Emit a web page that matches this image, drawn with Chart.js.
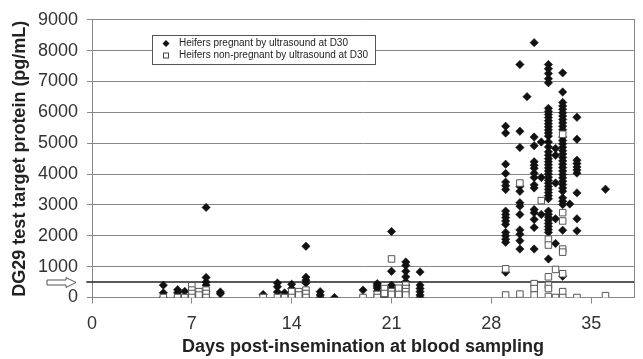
<!DOCTYPE html>
<html>
<head>
<meta charset="utf-8">
<script src="https://cdn.jsdelivr.net/npm/chart.js@4"></script>
<style>
  html, body { margin: 0; padding: 0; background: #fff; }
  canvas { display: block; }
</style>
</head>
<body>
<canvas id="dg29Chart" width="643" height="359"></canvas>
<script>
// Datos: [dia, [valores pg/mL]]
const prenadas = [
  [5, [400, 150, 0]],
  [6, [250, 150, 0]],
  [6.5, [200, 0]],
  [7.5, [0]],
  [8, [2920, 650, 500, 400, 200, 0]],
  [9, [180, 120]],
  [12, [100]],
  [13, [470, 350, 180]],
  [13.5, [150]],
  [14, [430, 290]],
  [15, [1660, 660, 560, 470, 0]],
  [16, [190, 80, 0]],
  [17, [0]],
  [19, [240]],
  [20, [450, 400, 350, 300, 200]],
  [20.5, [0]],
  [21, [2140, 850, 400, 290]],
  [21.5, [220, 0]],
  [22, [1150, 1040, 850, 670, 510, 400]],
  [23, [830, 400, 290, 190, 80, 0]],
  [29, [5550, 5330, 4320, 4020, 3740, 3620, 3500, 2800, 2690, 2590, 2480, 2370, 2110, 2000, 1890, 1790, 820]],
  [30, [7550, 5390, 4860, 3600, 3440, 3070, 2960, 2690, 2190, 2050, 1840, 1570]],
  [30.5, [6510]],
  [31, [8260, 5200, 4920, 4400, 4290, 4190, 4030, 3890, 3650, 3550, 2850, 2750, 2530, 2270, 1570]],
  [31.5, [5040, 3890, 2690]],
  [32, [7550, 7410, 7260, 7090, 6960, 6130, 6030, 5930, 5830, 5730, 5630, 5530, 5430, 5330, 5230, 5040, 4880, 4720,
        4610, 4500, 4400, 4300, 4200, 4100, 4000, 3900, 3800, 3700, 3600, 3500, 3400, 3300, 3200, 2800, 2700, 2600,
        2500, 2400, 2300, 2200, 2110, 1250]],
  [32.5, [4830, 4610, 3710, 2550, 1750]],
  [33, [7280, 6660, 6320, 6210, 6100, 5990, 5880, 5770, 5660, 5550, 5440, 5200, 5090, 4980, 4870, 4760, 4650, 4540,
        4430, 4320, 4210, 4100, 3990, 3880, 3770, 3660, 3550, 3440, 3230, 3120, 3010, 2180, 690]],
  [33.5, [3030]],
  [34, [5840, 5130, 4450, 4340, 4230, 4130, 4030, 3390, 2550, 2160]],
  [36, [3510]]
];

const noPrenadas = [
  [5, [0]],
  [6, [0]],
  [6.5, [0]],
  [7, [380, 240, 130, 0]],
  [7.5, [190, 80]],
  [8, [240, 130, 0]],
  [12, [0]],
  [13, [0]],
  [13.5, [0]],
  [14, [190, 0]],
  [14.5, [190, 80]],
  [15, [240, 130, 0]],
  [19, [0]],
  [20, [100, 0]],
  [20.5, [290, 130]],
  [21, [1250, 190, 100]],
  [21.5, [300, 100]],
  [22, [400, 290, 190, 80]],
  [29, [930, 80]],
  [30, [3710, 110]],
  [31, [450, 290, 80]],
  [31.5, [3140]],
  [32, [1890, 1700, 670, 400, 290, 30]],
  [32.5, [910, 0]],
  [33, [5290, 2750, 2480, 1570, 1470, 770, 190, 0]],
  [34, [0]],
  [36, [60]]
];

const ticksX = [0, 7, 14, 21, 28, 35];
const limiteX = [0, 38];
const limiteY = [0, 9000];
const umbral = 500;

const etiquetas = [
  'Heifers pregnant by ultrasound at D30',
  'Heifers non-pregnant by ultrasound at D30'
];

function aPuntos(grupos) {
  const puntos = [];
  grupos.forEach(([dia, valores]) => {
    valores.forEach(v => puntos.push({ x: dia, y: v }));
  });
  return puntos;
}

const fuente = "'Liberation Sans', Arial, sans-serif";

// Leyenda dentro del grafico y flecha del umbral
const extras = {
  id: 'extras',
  afterDraw(chart) {
    const ctx = chart.ctx;
    const area = chart.chartArea;
    const y = chart.scales.y;
    ctx.save();

    // leyenda
    const lx = area.left + 60, ly = 35, lw = 223, lh = 29;
    ctx.fillStyle = '#fff';
    ctx.fillRect(lx, ly, lw, lh);
    ctx.strokeStyle = '#555';
    ctx.lineWidth = 1;
    ctx.strokeRect(lx + 0.5, ly + 0.5, lw, lh);

    ctx.font = '10px ' + fuente;
    ctx.fillStyle = '#222';
    ctx.textBaseline = 'middle';
    ctx.fillText(etiquetas[0], lx + 27, ly + 8.5);
    ctx.fillText(etiquetas[1], lx + 27, ly + 20.5);

    // marcador rombo
    const mx = lx + 14;
    ctx.fillStyle = '#111';
    ctx.beginPath();
    ctx.moveTo(mx, ly + 5);
    ctx.lineTo(mx + 3.5, ly + 8.5);
    ctx.lineTo(mx, ly + 12);
    ctx.lineTo(mx - 3.5, ly + 8.5);
    ctx.closePath();
    ctx.fill();
    // marcador cuadrado
    ctx.strokeStyle = '#444';
    ctx.strokeRect(mx - 2.5, ly + 18, 5, 5);

    // flecha hueca al nivel del umbral
    const ay = Math.round(y.getPixelForValue(umbral)) + 0.5;
    ctx.beginPath();
    ctx.moveTo(47, ay - 2.5);
    ctx.lineTo(66, ay - 2.5);
    ctx.lineTo(66, ay - 5);
    ctx.lineTo(76, ay);
    ctx.lineTo(66, ay + 5);
    ctx.lineTo(66, ay + 2.5);
    ctx.lineTo(47, ay + 2.5);
    ctx.closePath();
    ctx.fillStyle = '#fff';
    ctx.fill();
    ctx.strokeStyle = '#555';
    ctx.stroke();

    ctx.restore();
  }
};

const ctx = document.getElementById('dg29Chart').getContext('2d');
new Chart(ctx, {
  type: 'scatter',
  data: {
    datasets: [
      {
        label: etiquetas[1],
        data: aPuntos(noPrenadas),
        pointStyle: 'rect',
        pointRadius: 4.6,
        backgroundColor: '#fff',
        borderColor: '#555',
        borderWidth: 1,
        order: 0
      },
      {
        label: etiquetas[0],
        data: aPuntos(prenadas),
        pointStyle: 'rectRot',
        pointRadius: 4.2,
        backgroundColor: '#111',
        borderColor: '#111',
        borderWidth: 0.5,
        order: 1
      },
      {
        type: 'line',
        label: 'umbral',
        data: [{ x: -0.4, y: umbral }, { x: limiteX[1], y: umbral }],
        borderColor: '#222',
        borderWidth: 1.5,
        pointRadius: 0,
        clip: false,
        order: 2
      }
    ]
  },
  options: {
    responsive: false,
    animation: false,
    events: [],
    layout: { padding: { top: 16, right: 9, left: 0, bottom: 0 } },
    plugins: {
      legend: { display: false },
      tooltip: { enabled: false }
    },
    scales: {
      x: {
        type: 'linear',
        min: limiteX[0],
        max: limiteX[1],
        afterBuildTicks: s => { s.ticks = ticksX.map(v => ({ value: v })); },
        afterFit: s => { s.height = 61.5; },
        grid: { drawOnChartArea: false, tickLength: 6, color: '#888' },
        border: { color: '#888' },
        ticks: {
          padding: 10,
          color: '#333',
          font: { family: fuente, size: 18 }
        },
        title: {
          display: true,
          text: 'Days post-insemination at blood sampling',
          color: '#222',
          padding: { top: 2, bottom: 1 },
          font: { family: fuente, size: 18, weight: 'bold' }
        }
      },
      y: {
        min: limiteY[0],
        max: limiteY[1],
        afterFit: s => { s.width = 92; },
        grid: { color: '#888', tickLength: 5 },
        border: { color: '#888' },
        ticks: {
          stepSize: 1000,
          padding: 9,
          color: '#333',
          font: { family: fuente, size: 18 },
          callback: v => String(v)
        },
        title: {
          display: true,
          text: 'DG29 test target protein (pg/mL)',
          color: '#222',
          padding: { top: 9, bottom: 0 },
          font: { family: fuente, size: 18, weight: 'bold' }
        }
      },
      y2: {
        position: 'right',
        min: limiteY[0],
        max: limiteY[1],
        afterFit: s => { s.width = 0; },
        grid: { display: false, drawTicks: false },
        border: { color: '#888' },
        ticks: { display: false }
      }
    }
  },
  plugins: [extras]
});
</script>
</body>
</html>
